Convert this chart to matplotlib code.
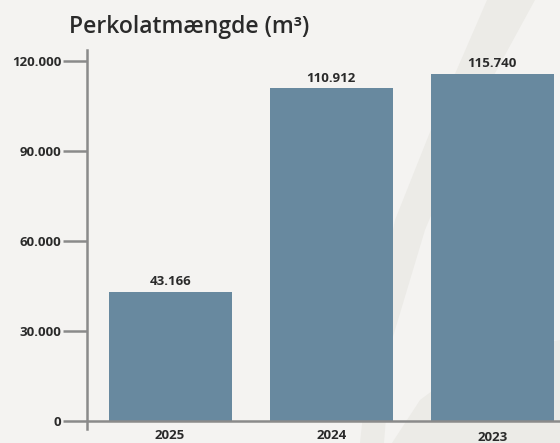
"""Perkolatmængde bar chart (m³) per year."""

import matplotlib
matplotlib.use("Agg")
import matplotlib.pyplot as plt
import matplotlib.transforms as mtransforms
from matplotlib.patches import Polygon

years = ["2025", "2024", "2023"]
volumes = [43166, 110912, 115740]
value_labels = ["43.166", "110.912", "115.740"]
y_ticks = [0, 30000, 60000, 90000, 120000]
y_tick_labels = ["0", "30.000", "60.000", "90.000", "120.000"]

BG = "#f4f3f1"
BAND = "#ecebe7"
BAR = "#68899f"
AXIS = "#8a8a8a"
TEXT = "#2a2a2a"

W, H = 560, 443

fig = plt.figure(figsize=(5.6, 4.43), dpi=100, facecolor=BG)

# background layer with the soft diagonal bands (pixel coords, y down)
bg = fig.add_axes([0, 0, 1, 1], zorder=-1)
bg.set_xlim(0, W)
bg.set_ylim(H, 0)
bg.axis("off")
band1 = [(487, 0), (535, 0), (475, 110), (425, 230), (392, 340), (384, 443),
         (360, 443), (372, 330), (395, 220), (432, 127)]
band2 = [(392, 443), (420, 400), (460, 370), (510, 350), (560, 340), (560, 443)]
for pts in (band1, band2):
    bg.add_patch(Polygon(pts, closed=True, facecolor=BAND, edgecolor="none"))

ax = fig.add_axes([87 / W, 14 / H, 1 - 87 / W, (429 - 50) / H])
ax.patch.set_alpha(0)

x = list(range(len(years)))
bars = ax.bar(x, volumes, width=0.765, color=BAR, zorder=2)

ax.set_xlim(-0.516, 2.42)
# 0 sits at y=421 px, 120.000 at y=61 px
ax.set_ylim(-2667, 123667)

for b, lab in zip(bars, value_labels):
    ax.annotate(lab, (b.get_x() + b.get_width() / 2, b.get_height()),
                xytext=(0, 2.5), textcoords="offset points",
                ha="center", va="bottom", fontsize=9.5, fontweight="bold",
                family="Open Sans", color=TEXT)

ax.axhline(0, color=AXIS, lw=1.8, zorder=3)

for side in ("top", "right", "bottom"):
    ax.spines[side].set_visible(False)
ax.spines["left"].set_color(AXIS)
ax.spines["left"].set_linewidth(1.8)

ax.set_yticks(y_ticks, y_tick_labels)
ax.tick_params(axis="y", length=17, width=1.8, color=AXIS, pad=1.5,
               labelsize=9.5, labelcolor=TEXT)
ax.set_xticks(x, years)
ax.tick_params(axis="x", length=0, pad=0, labelsize=9.5, labelcolor=TEXT)
for lab in ax.get_yticklabels() + ax.get_xticklabels():
    lab.set_fontweight("bold")
    lab.set_family("Open Sans")

# the last year label sits a little lower
last = ax.get_xticklabels()[-1]
last.set_transform(last.get_transform() +
                   mtransforms.ScaledTranslation(0, -2 / 100, fig.dpi_scale_trans))

fig.text(69 / W, 1 - 33 / H, "Perkolatmængde (m³)", ha="left", va="baseline",
         fontsize=16.6, fontweight="semibold", family="Open Sans", color=TEXT)

fig.savefig("out.png", dpi=100, facecolor=BG)
